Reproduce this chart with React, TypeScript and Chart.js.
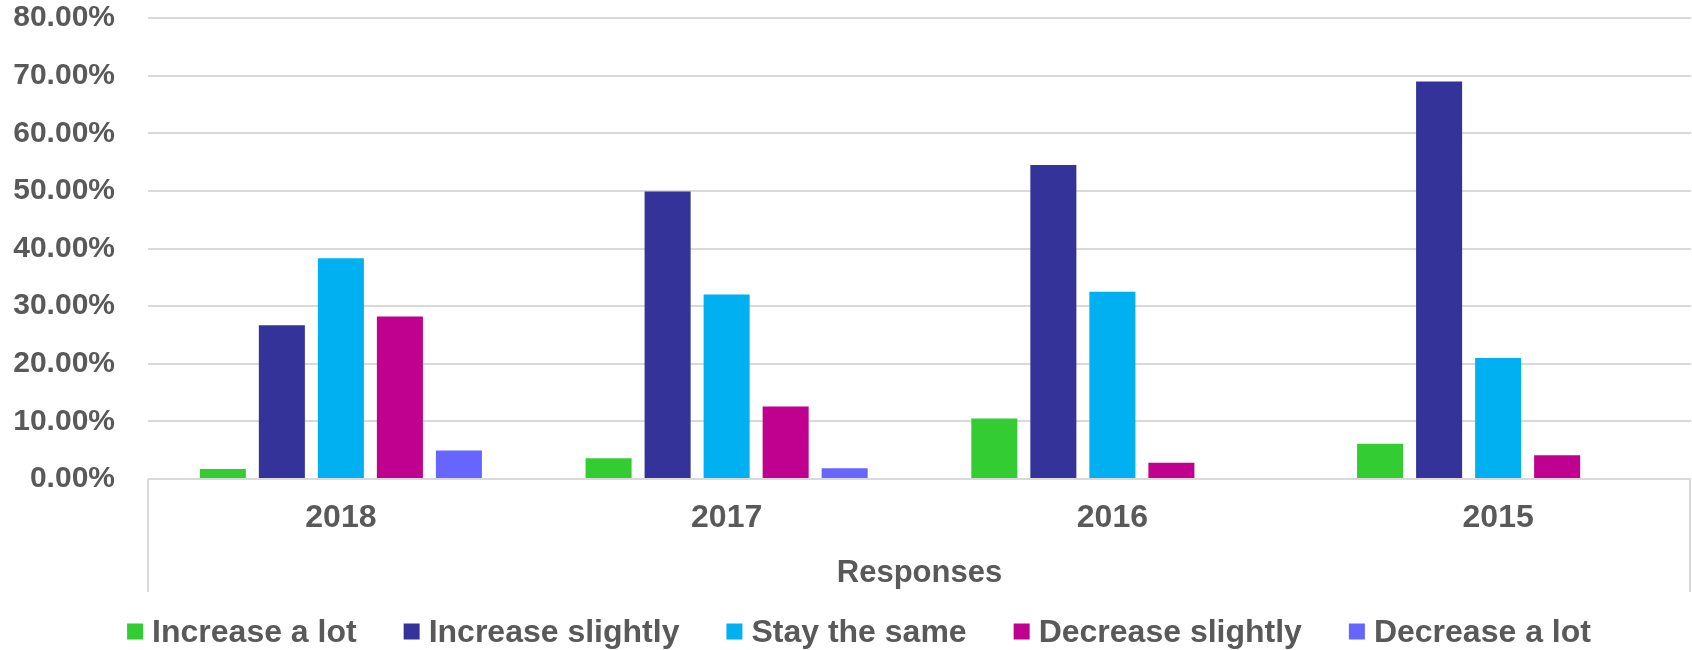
import React, { useEffect, useRef } from "react";
import { Chart, registerables } from "chart.js";

Chart.register(...registerables);

const categories = ["2018", "2017", "2016", "2015"];
const seriesNames = [
  "Increase a lot",
  "Increase slightly",
  "Stay the same",
  "Decrease slightly",
  "Decrease a lot",
];
const increaseALot = [1.75, 3.6, 10.5, 6.1];
const increaseSlightly = [26.7, 49.9, 54.5, 69.0];
const stayTheSame = [38.3, 32.0, 32.5, 21.0];
const decreaseSlightly = [28.2, 12.6, 2.8, 4.1];
const decreaseALot = [4.95, 1.85, 0, 0];
const seriesColors = ["#33CC33", "#333399", "#00B0F0", "#C0008F", "#6666FF"];
const yTicks = [0, 10, 20, 30, 40, 50, 60, 70, 80];
const xTitle = "Responses";

const FONT = '"Liberation Sans", Arial, sans-serif';
const TEXT = "#595959";
const GRID = "#d9d9d9";

const boundaryLines = {
  id: "boundaryLines",
  afterDraw(chart: any) {
    const { ctx, chartArea } = chart;
    const xs = chart.scales.x;
    ctx.save();
    ctx.strokeStyle = GRID;
    ctx.lineWidth = 2;
    ctx.beginPath();
    ctx.moveTo(chartArea.left, chartArea.bottom);
    ctx.lineTo(chartArea.left, xs.bottom);
    ctx.moveTo(chartArea.right - 1, chartArea.bottom);
    ctx.lineTo(chartArea.right - 1, xs.bottom);
    ctx.stroke();
    ctx.restore();
  },
};

const customLegend = {
  id: "customLegend",
  afterDraw(chart: any) {
    const { ctx, width } = chart;
    const ds = chart.data.datasets;
    const box = 16;
    const textGap = 9;
    const itemGap = 47;
    ctx.save();
    ctx.font = `bold 32px ${FONT}`;
    const widths = ds.map((d: any) => ctx.measureText(d.label).width);
    const total =
      widths.reduce((a: number, w: number) => a + box + textGap + w, 0) +
      itemGap * (ds.length - 1);
    let x = width / 2 + 13 - total / 2;
    const baseline = 641.5;
    ds.forEach((d: any, i: number) => {
      ctx.fillStyle = d.backgroundColor;
      ctx.fillRect(x, 623.5, box, box);
      ctx.fillStyle = TEXT;
      ctx.textBaseline = "alphabetic";
      ctx.textAlign = "left";
      ctx.fillText(d.label, x + box + textGap, baseline);
      x += box + textGap + widths[i] + itemGap;
    });
    ctx.restore();
  },
};

export default function App() {
  const ref = useRef<HTMLCanvasElement>(null);
  useEffect(() => {
    document.body.style.margin = "0";
    const values = [
      increaseALot,
      increaseSlightly,
      stayTheSame,
      decreaseSlightly,
      decreaseALot,
    ];
    const chart = new Chart(ref.current!, {
      type: "bar",
      data: {
        labels: categories,
        datasets: seriesNames.map((name, i) => ({
          label: name,
          data: values[i],
          backgroundColor: seriesColors[i],
          categoryPercentage: 0.765,
          barPercentage: 0.78,
        })),
      },
      options: {
        animation: false,
        responsive: false,
        maintainAspectRatio: false,
        layout: { padding: { top: 4, left: 11, right: 1, bottom: 58 } },
        plugins: {
          legend: { display: false },
          tooltip: { enabled: false },
        },
        scales: {
          x: {
            grid: { display: false },
            border: { display: false },
            ticks: {
              color: TEXT,
              font: { family: FONT, size: 32, weight: "bold" },
              padding: 12,
              maxRotation: 0,
            },
            title: {
              display: true,
              text: xTitle,
              color: TEXT,
              font: { family: FONT, size: 31, weight: "bold" },
              padding: { top: 21, bottom: 0 },
            },
            afterFit: (scale: any) => {
              scale.height = 113;
              scale.paddingLeft = 0;
              scale.paddingRight = 0;
            },
          },
          y: {
            min: 0,
            max: 80,
            afterBuildTicks: (scale: any) => {
              scale.ticks = yTicks.map((v) => ({ value: v }));
            },
            grid: { color: GRID, lineWidth: 2, drawTicks: false },
            border: { display: false },
            ticks: {
              color: TEXT,
              font: { family: FONT, size: 30, weight: "bold" },
              padding: 33,
              callback: (v: any) => Number(v).toFixed(2) + "%",
            },
            afterFit: (scale: any) => {
              scale.width = 137;
              scale.paddingTop = 18;
              scale.paddingBottom = 0;
            },
          },
        },
      },
      plugins: [boundaryLines, customLegend],
    });
    return () => chart.destroy();
  }, []);
  return (
    <div style={{ width: 1692, height: 650 }}>
      <canvas ref={ref} width={1692} height={650} />
    </div>
  );
}
